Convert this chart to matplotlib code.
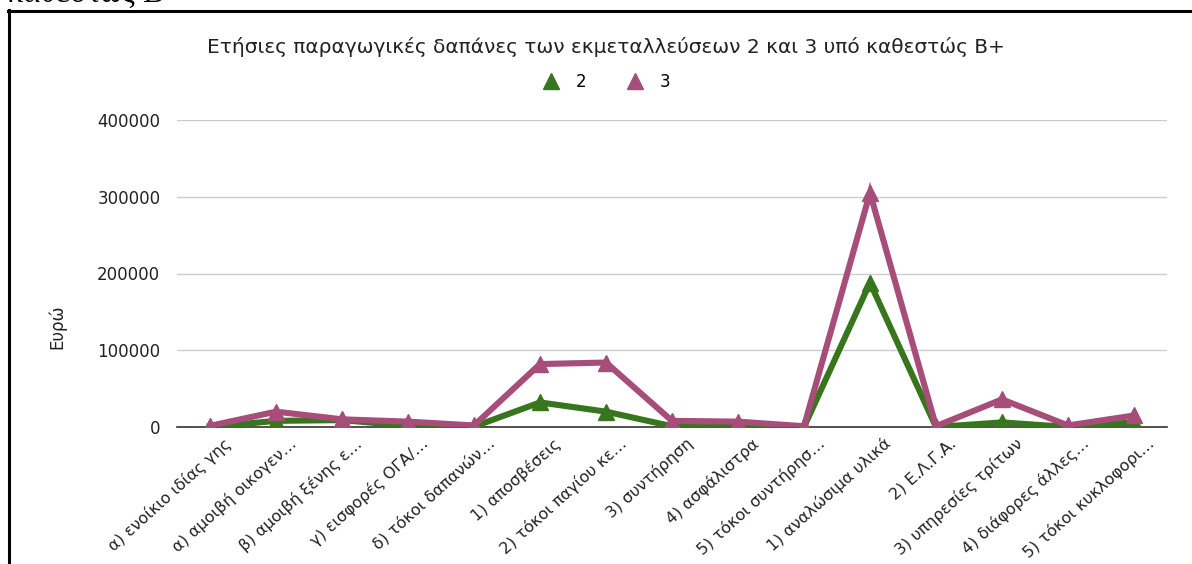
import matplotlib
matplotlib.use("Agg")
import matplotlib.pyplot as plt
import matplotlib.transforms as mtrans
from matplotlib.lines import Line2D

plt.rcParams['font.family'] = ['DejaVu Sans']

categories = [
    "α) ενοίκιο ιδίας γης", "α) αμοιβή οικογεν…", "β) αμοιβή ξένης ε…",
    "γ) εισφορές ΟΓΑ/…", "δ) τόκοι δαπανών…", "1) αποσβέσεις",
    "2) τόκοι παγίου κε…", "3) συντήρηση", "4) ασφάλιστρα",
    "5) τόκοι συντήρησ…", "1) αναλώσιμα υλικά", "2) Ε.Λ.Γ.Α.",
    "3) υπηρεσίες τρίτων", "4) διάφορες άλλες…", "5) τόκοι κυκλοφορι…",
]
series_2 = [0, 8000, 9000, 1500, 500, 32000, 20000, 1000, 1500, 0,
            188000, 0, 6000, 0, 6000]
series_3 = [1500, 20000, 10000, 7000, 2000, 82000, 84000, 8000, 7000, 1000,
            305000, 1000, 36000, 2000, 15000]
yticks = [0, 100000, 200000, 300000, 400000]

title = "Ετήσιες παραγωγικές δαπάνες των εκμεταλλεύσεων 2 και 3 υπό καθεστώς Β+"
green = "#38761d"
pink = "#a64d79"
txt = '#222222'

W, H = 1192, 564
fig = plt.figure(figsize=(W / 100, H / 100), dpi=100)
ax = fig.add_axes([177 / W, 1 - 427 / H, (1167 - 177) / W, (427 - 120) / H])

x = list(range(len(categories)))
ax.plot(x, series_2, color=green, lw=4.4, marker='^', ms=12, label='2',
        solid_joinstyle='miter', zorder=3)
ax.plot(x, series_3, color=pink, lw=4.4, marker='^', ms=12, label='3',
        solid_joinstyle='miter', zorder=4)

ax.set_xlim(-0.5, len(categories) - 0.5)
ax.set_ylim(0, 400000)
ax.set_yticks(yticks)
ax.set_yticklabels([str(v) for v in yticks], fontsize=12, color=txt)
ax.yaxis.grid(True, color='#cccccc', lw=1)
ax.set_axisbelow(True)
for s in ['top', 'right', 'left']:
    ax.spines[s].set_visible(False)
ax.spines['bottom'].set_color('#333333')
ax.spines['bottom'].set_linewidth(1.2)
ax.tick_params(axis='y', length=0, pad=12)
ax.tick_params(axis='x', length=0, pad=6)
ax.set_xticks(x)
ax.set_xticklabels(categories, rotation=42, ha='right', va='top',
                   rotation_mode='anchor', fontsize=11.5, color=txt)
offset = mtrans.ScaledTranslation(13 / 100, 0, fig.dpi_scale_trans)
for lab in ax.get_xticklabels():
    lab.set_transform(lab.get_transform() + offset)

fig.text(57 / W, 1 - 327 / H, "Ευρώ", rotation=90, ha='center', va='center',
         fontsize=12, color=txt)
fig.text(606 / W, 1 - 47 / H, title, ha='center', va='center', fontsize=14.5,
         color=txt)

fig.legend(handles=[
    Line2D([], [], color=green, marker='^', ls='none', ms=12, label='2'),
    Line2D([], [], color=pink, marker='^', ls='none', ms=12, label='3')],
    loc='center', bbox_to_anchor=(606 / W, 1 - 82 / H), ncol=2, frameon=False,
    fontsize=12, handletextpad=0.9, columnspacing=2.3, handlelength=1.2)

# document frame
fig.add_artist(Line2D([8.5 / W, 8.5 / W], [0, 1 - 10 / H], color='black', lw=2.2,
                      transform=fig.transFigure))
fig.add_artist(Line2D([8 / W, 1], [1 - 10.5 / H, 1 - 10.5 / H], color='black', lw=2.2,
                      transform=fig.transFigure))
fig.text(7 / W, 1 - 2 / H, "καθεστώς Β+", ha='left', va='baseline',
         fontsize=23.5, family='Liberation Serif', color='black')

fig.savefig("out.png", dpi=100, facecolor='white')
